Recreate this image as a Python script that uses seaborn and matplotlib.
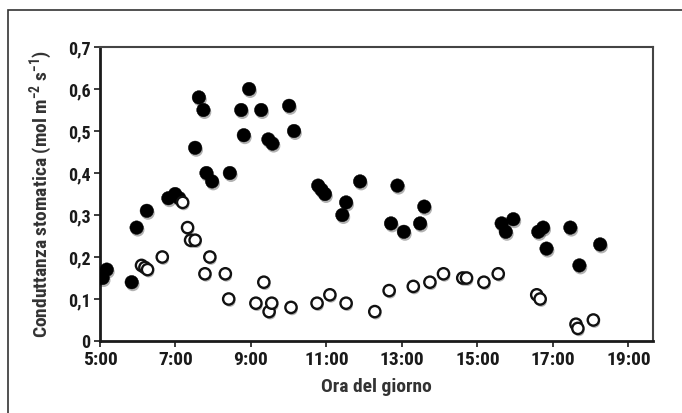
import matplotlib
matplotlib.use("Agg")
import matplotlib.pyplot as plt
import matplotlib.patheffects as pe
from matplotlib.patches import Rectangle
from matplotlib import font_manager
import seaborn as sns
import pandas as pd

# Hour of day (decimal) and stomatal conductance (mol m-2 s-1)
hour_filled = [5.07, 5.18, 5.84, 5.97, 6.24, 6.81, 6.99, 7.10, 7.52, 7.62,
               7.74, 7.82, 7.97, 8.44, 8.74, 8.81, 8.95, 9.27, 9.46, 9.57,
               10.01, 10.14, 10.78, 10.87, 10.96, 11.42, 11.52, 11.89, 12.71,
               12.88, 13.05, 13.48, 13.59, 15.64, 15.75, 15.95, 16.61, 16.74,
               16.83, 17.46, 17.70, 18.25]
gs_filled = [0.15, 0.17, 0.14, 0.27, 0.31, 0.34, 0.35, 0.34, 0.46, 0.58,
             0.55, 0.40, 0.38, 0.40, 0.55, 0.49, 0.60, 0.55, 0.48, 0.47,
             0.56, 0.50, 0.37, 0.36, 0.35, 0.30, 0.33, 0.38, 0.28,
             0.37, 0.26, 0.28, 0.32, 0.28, 0.26, 0.29, 0.26, 0.27,
             0.22, 0.27, 0.18, 0.23]

hour_open = [6.10, 6.19, 6.26, 6.65, 7.19, 7.32, 7.40, 7.52, 7.78, 7.91,
             8.32, 8.41, 9.13, 9.34, 9.48, 9.55, 10.06, 10.75, 11.09, 11.52,
             12.28, 12.66, 13.30, 13.74, 14.10, 14.61, 14.71, 15.17, 15.55,
             16.57, 16.66, 17.61, 17.66, 18.07]
gs_open = [0.18, 0.175, 0.17, 0.20, 0.33, 0.27, 0.24, 0.24, 0.16, 0.20,
           0.16, 0.10, 0.09, 0.14, 0.07, 0.09, 0.08, 0.09, 0.11, 0.09,
           0.07, 0.12, 0.13, 0.14, 0.16, 0.15, 0.15, 0.14, 0.16,
           0.11, 0.10, 0.04, 0.03, 0.05]

x_ticks = [5, 7, 9, 11, 13, 15, 17, 19]
x_ticklabels = ["5:00", "7:00", "9:00", "11:00", "13:00", "15:00", "17:00", "19:00"]
y_ticks = [0, 0.1, 0.2, 0.3, 0.4, 0.5, 0.6, 0.7]
y_ticklabels = ["0", "0,1", "0,2", "0,3", "0,4", "0,5", "0,6", "0,7"]

sns.set_theme(style="white")

# pick a condensed bold sans for the labels
names = {f.name for f in font_manager.fontManager.ttflist}
family = "DejaVu Sans"
for cand in ["Roboto Condensed", "Archivo Narrow", "Liberation Sans Narrow",
             "Sofia Sans Condensed", "Saira SemiCondensed"]:
    if cand in names:
        family = cand
        break
plt.rcParams["font.family"] = [family, "DejaVu Sans"]
plt.rcParams["mathtext.fontset"] = "custom"
plt.rcParams["mathtext.rm"] = f"{family}:bold"
plt.rcParams["mathtext.bf"] = f"{family}:bold"
plt.rcParams["mathtext.default"] = "bf"

ink = "#1a1a1a"

fig = plt.figure(figsize=(6.82, 4.13), dpi=100)
ax = fig.add_axes([100 / 682, 1 - 341 / 413, 553 / 682, 294 / 413])

# outer frame around the whole figure panel
fig.patches.append(Rectangle((8 / 682, -0.05), 1.2, (413 - 10) / 413 + 0.05,
                             transform=fig.transFigure, fill=False,
                             edgecolor="#333333", linewidth=1.2))

df_f = pd.DataFrame({"ora": hour_filled, "gs": gs_filled})
df_o = pd.DataFrame({"ora": hour_open, "gs": gs_open})

shadow = [pe.SimplePatchShadow(offset=(0.8, -1.6), shadow_rgbFace="#000000", alpha=0.3),
          pe.Normal()]

sns.scatterplot(data=df_f, x="ora", y="gs", ax=ax, s=95, color="black",
                edgecolor="black", linewidth=0.3, zorder=3)
sns.scatterplot(data=df_o, x="ora", y="gs", ax=ax, s=66, color="white",
                edgecolor="#111111", linewidth=1.7, zorder=4)
for coll in ax.collections:
    coll.set_path_effects(shadow)

ax.set_xlim(5, 19.65)
ax.set_ylim(0, 0.7)
ax.set_xticks(x_ticks)
ax.set_xticklabels(x_ticklabels, fontsize=14, fontweight="bold", color=ink)
ax.set_yticks(y_ticks)
ax.set_yticklabels(y_ticklabels, fontsize=13, fontweight="bold", color=ink)
ax.tick_params(axis="both", direction="out", length=4, width=1.2, color=ink,
               bottom=True, left=True, pad=3)

for side in ["left", "bottom"]:
    ax.spines[side].set_linewidth(2.0)
    ax.spines[side].set_color(ink)
for side in ["top", "right"]:
    ax.spines[side].set_linewidth(1.5)
    ax.spines[side].set_color("#444444")

ax.set_xlabel("Ora del giorno", fontsize=14, fontweight="bold", color="#333333", labelpad=7)
ax.set_ylabel("Conduttanza stomatica (mol m$^{-2}$ s$^{-1}$)", fontsize=14,
              fontweight="bold", color="#333333", labelpad=9)

fig.savefig("out.png", dpi=100)
